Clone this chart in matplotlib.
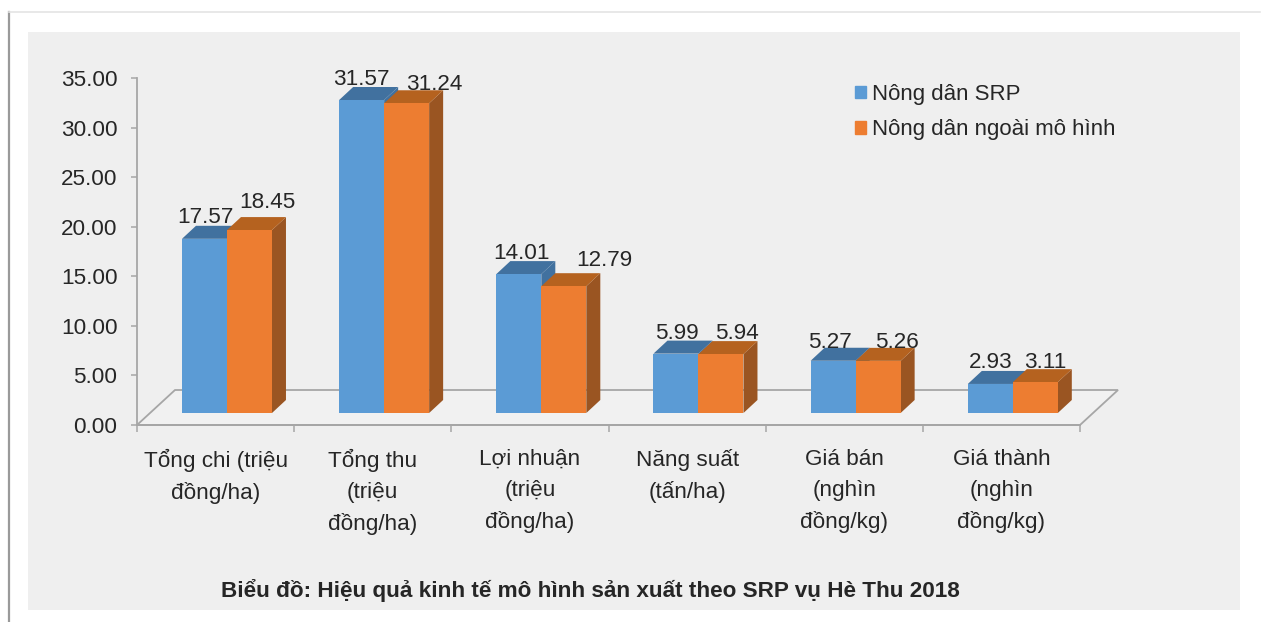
import matplotlib.pyplot as plt
from matplotlib.patches import Patch, Rectangle

categories = [
    "Tổng chi (triệu\nđồng/ha)",
    "Tổng thu\n(triệu\nđồng/ha)",
    "Lợi nhuận\n(triệu\nđồng/ha)",
    "Năng suất\n(tấn/ha)",
    "Giá bán\n(nghìn\nđồng/kg)",
    "Giá thành\n(nghìn\nđồng/kg)",
]
srp_values = [17.57, 31.57, 14.01, 5.99, 5.27, 2.93]
other_values = [18.45, 31.24, 12.79, 5.94, 5.26, 3.11]
y_ticks = [0, 5, 10, 15, 20, 25, 30, 35]
series_names = ["Nông dân SRP", "Nông dân ngoài mô hình"]
title = "Biểu đồ: Hiệu quả kinh tế mô hình sản xuất theo SRP vụ Hè Thu 2018"

# label nudges from the bar's front top centre, in pixels
srp_label_dx = [1, 0, 3, 1, -3, 0]
srp_label_dy = [16, 15, 15, 15, 13, 16]
other_label_dx = [18, 28, 41, 16, 19, 10]
other_label_dy = [22, 13, 20, 15, 13, 14]

W, H = 1272, 622
BAR_W = 45 / 157.2
BAR_START = 45 / 157.2
PX_X = 6 / (1080 - 137)
PX_Y = 35 / (425 - 78)
BASE_DY = 12 * PX_Y
DX = 14 * PX_X
DY = 13 * PX_Y

plt.rcParams["font.family"] = ["Liberation Sans", "DejaVu Sans"]
TEXT = "#262626"
GREY = "#a6a6a6"
FONT = 16.2

fig = plt.figure(figsize=(W / 100, H / 100), dpi=100, facecolor="white")

# page frame and grey panel behind the chart
fig.add_artist(Rectangle((28 / W, 1 - 610 / H), 1212 / W, 578 / H, color="#efefef", lw=0, zorder=-2))
fig.add_artist(plt.Line2D([9 / W, 9 / W], [0, 1 - 12 / H], color="#9a9a9a", lw=1.6, zorder=-2))
fig.add_artist(plt.Line2D([9 / W, 1260 / W], [1 - 12 / H, 1 - 12 / H], color="#e4e4e4", lw=1.2, zorder=-2))

ax = fig.add_axes([137 / W, 1 - 425 / H, (1080 - 137) / W, (425 - 78) / H])
ax.patch.set_alpha(0)
ax.set_xlim(0, 6)
ax.set_ylim(0, 35)

# floor of the 3D plot
floor_dx = 38 * PX_X
floor_dy = 35 * PX_Y
ax.fill(
    [0, 6, 6 + floor_dx, floor_dx],
    [0, 0, floor_dy, floor_dy],
    facecolor="#f1f1f1",
    edgecolor=GREY,
    lw=1.3,
    clip_on=False,
    zorder=1,
)


def draw_bars(values, offset, front, top, side, z):
    for i, v in enumerate(values):
        x0 = i + BAR_START + offset
        x1 = x0 + BAR_W
        y0 = BASE_DY
        y1 = BASE_DY + v
        ax.fill([x1, x1 + DX, x1 + DX, x1], [y0, y0 + DY, y1 + DY, y1],
                color=side, lw=0, clip_on=False, zorder=z)
        ax.fill([x0, x1, x1 + DX, x0 + DX], [y1, y1, y1 + DY, y1 + DY],
                color=top, lw=0, clip_on=False, zorder=z)
        ax.bar(x0, v, BAR_W, bottom=y0, align="edge", color=front, lw=0, zorder=z + 0.1)


draw_bars(srp_values, 0, "#5b9bd5", "#41719f", "#41719f", 2)
draw_bars(other_values, BAR_W, "#ed7d31", "#b5621f", "#9a5522", 3)

for i in range(6):
    x_srp = i + BAR_START + BAR_W / 2
    x_other = x_srp + BAR_W
    ax.text(x_srp + srp_label_dx[i] * PX_X,
            BASE_DY + srp_values[i] + srp_label_dy[i] * PX_Y,
            f"{srp_values[i]:.2f}", ha="center", va="baseline",
            fontsize=FONT, color=TEXT, zorder=5, clip_on=False)
    ax.text(x_other + other_label_dx[i] * PX_X,
            BASE_DY + other_values[i] + other_label_dy[i] * PX_Y,
            f"{other_values[i]:.2f}", ha="center", va="baseline",
            fontsize=FONT, color=TEXT, zorder=5, clip_on=False)

for name in ["top", "right"]:
    ax.spines[name].set_visible(False)
for name in ["left", "bottom"]:
    ax.spines[name].set_color(GREY)
    ax.spines[name].set_linewidth(1.3)
    ax.spines[name].set_zorder(1.5)

ax.set_yticks(y_ticks)
ax.set_yticklabels([f"{t:.2f}" for t in y_ticks], fontsize=FONT, color=TEXT)
ax.tick_params(axis="y", length=4, color=GREY, width=1.1, pad=10)

ax.set_xticks(range(7))
ax.set_xticklabels([])
ax.tick_params(axis="x", which="major", length=5, color=GREY, width=1.1)
ax.set_xticks([i + 0.5 for i in range(6)], minor=True)
ax.set_xticklabels(categories, minor=True, fontsize=FONT, color=TEXT, linespacing=1.62)
ax.tick_params(axis="x", which="minor", length=0, pad=17)

handles = [Patch(color="#5b9bd5"), Patch(color="#ed7d31")]
fig.legend(
    handles,
    series_names,
    loc="upper left",
    bbox_to_anchor=(855 / W, 1 - 84 / H),
    frameon=False,
    fontsize=16,
    labelcolor=TEXT,
    handlelength=0.5,
    handleheight=0.5,
    handletextpad=0.26,
    labelspacing=0.65,
    borderpad=0,
    borderaxespad=0,
)

fig.text(590 / W, 1 - 591 / H, title, ha="center", va="center",
         fontsize=16.2, fontweight="bold", color=TEXT)

fig.savefig("out.png", dpi=100)
